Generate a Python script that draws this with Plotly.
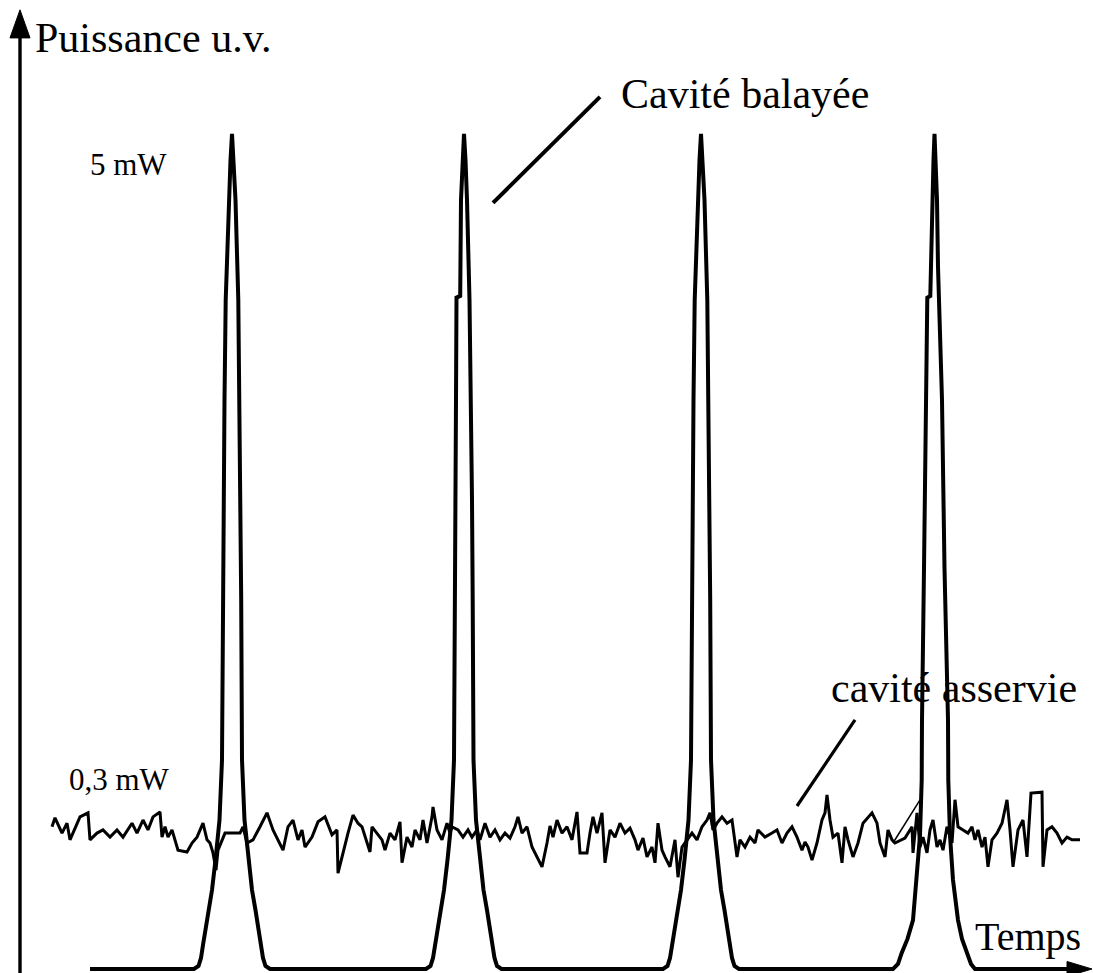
import plotly.graph_objects as go

# Time axis in arbitrary units, power in mW
# Scanned cavity: transmitted u.v. power while the cavity length is swept
scan_t = [7.0,
          17.40, 17.85, 18.10, 18.30, 18.55, 18.85, 19.20, 19.55, 19.95, 20.20, 20.23, 20.28, 20.35, 20.45, 20.57, 20.85, 21.05, 21.20,
          21.35, 21.55, 21.83, 21.95, 22.05, 22.12, 22.17, 22.20, 22.45, 22.85, 23.20, 23.55, 23.85, 24.10, 24.30, 24.55, 25.00,
          40.60, 41.05, 41.30, 41.50, 41.75, 42.05, 42.40, 42.75, 43.15, 43.40, 43.45, 43.50, 43.55, 43.60, 43.65, 44.02, 44.10, 44.27, 44.40,
          44.55, 44.70, 44.95, 45.10, 45.20, 45.27, 45.32, 45.35, 45.60, 46.00, 46.35, 46.70, 47.00, 47.25, 47.45, 47.70, 48.15,
          64.30, 64.75, 65.00, 65.20, 65.45, 65.75, 66.10, 66.45, 66.85, 67.10, 67.13, 67.18, 67.25, 67.35, 67.47, 67.75, 67.95, 68.10,
          68.25, 68.45, 68.73, 68.85, 68.95, 69.02, 69.07, 69.10, 69.35, 69.75, 70.10, 70.45, 70.75, 71.00, 71.20, 71.45, 71.90,
          87.30, 87.80, 88.17, 88.75, 89.30, 89.67, 90.00, 90.17, 90.20, 90.40, 90.60, 90.67, 90.73, 91.03, 91.08, 91.20, 91.35, 91.45,
          91.58, 91.70, 91.80, 92.07, 92.20, 92.45, 92.80, 92.83, 93.00, 93.30, 93.80, 94.20, 94.67, 95.10, 95.50,
          105.0]
scan_p = [0.0,
          0.0, 0.018, 0.066, 0.144, 0.234, 0.353, 0.473, 0.653, 0.892, 1.251, 1.611, 2.210, 2.808, 3.407, 4.006, 4.605, 4.844, 5.0,
          4.844, 4.605, 4.006, 3.407, 2.808, 2.210, 1.611, 1.251, 0.892, 0.653, 0.473, 0.353, 0.234, 0.144, 0.066, 0.018, 0.0,
          0.0, 0.018, 0.066, 0.144, 0.234, 0.353, 0.473, 0.653, 0.892, 1.251, 1.611, 2.210, 2.808, 3.407, 4.02, 4.03, 4.605, 4.844, 5.0,
          4.844, 4.605, 4.006, 3.407, 2.808, 2.210, 1.611, 1.251, 0.892, 0.653, 0.473, 0.353, 0.234, 0.144, 0.066, 0.018, 0.0,
          0.0, 0.018, 0.066, 0.144, 0.234, 0.353, 0.473, 0.653, 0.892, 1.251, 1.611, 2.210, 2.808, 3.407, 4.006, 4.605, 4.844, 5.0,
          4.844, 4.605, 4.006, 3.407, 2.808, 2.210, 1.611, 1.251, 0.892, 0.653, 0.473, 0.353, 0.234, 0.144, 0.066, 0.018, 0.0,
          0.0, 0.030, 0.096, 0.180, 0.293, 0.533, 0.800, 1.132, 1.491, 2.400, 3.407, 3.605, 4.02, 4.03, 4.204, 4.605, 4.844, 5.0,
          4.844, 4.605, 4.204, 3.605, 3.407, 2.400, 1.491, 1.132, 0.800, 0.533, 0.293, 0.180, 0.096, 0.030, 0.0,
          0.0]

# Locked cavity: transmitted power with the servo engaged (recorded at higher gain)
lock_t = [3.2, 3.5, 4.2, 4.7, 5.0, 6.0, 6.8, 7.0, 7.7, 8.3, 9.0, 9.7, 10.3, 11.2, 11.7, 12.3, 12.8, 13.3, 14.0, 14.2,
          14.5, 14.8, 15.2, 15.5, 15.8, 16.7, 17.2, 17.7, 18.3, 18.7, 19.0, 19.3, 19.6, 19.8, 20.2, 20.5, 22.0, 22.3, 22.7, 23.3,
          24.0, 24.7, 25.3, 25.8, 26.3, 26.8, 27.3, 27.8, 28.2, 28.5, 29.2, 29.8, 30.5, 31.2, 31.7, 31.8, 32.2, 32.5, 32.8, 33.3,
          33.8, 34.2, 34.7, 35.0, 35.2, 35.7, 36.2, 36.5, 37.0, 37.5, 38.0, 38.2, 38.7, 39.2, 39.5, 40.0, 40.3, 40.7, 41.2, 41.3,
          41.7, 42.2, 42.7, 43.0, 43.2, 43.8, 44.3, 44.8, 45.2, 45.7, 46.0, 46.5, 47.0, 47.5, 48.0, 48.5, 49.0, 49.5, 49.8, 50.2,
          50.7, 51.2, 51.7, 52.2, 52.7, 53.0, 53.3, 53.7, 54.2, 54.7, 55.2, 55.7, 56.0, 56.7, 57.0, 57.3, 57.7, 58.2, 58.5, 59.0,
          59.5, 60.0, 60.5, 61.0, 61.5, 61.8, 62.3, 62.7, 63.2, 63.5, 63.8, 64.2, 64.5, 65.0, 65.5, 65.8, 66.2, 66.7, 67.2, 67.7,
          68.2, 68.7, 69.0, 69.3, 69.7, 70.2, 70.7, 71.2, 71.7, 72.0, 72.5, 73.0, 73.5, 73.8, 74.5, 75.2, 75.7, 76.2, 76.7, 77.2,
          77.7, 78.2, 78.5, 78.8, 79.2, 79.7, 80.2, 80.5, 80.7, 81.0, 81.3, 81.8, 82.2, 82.5, 82.8, 83.3, 83.8, 84.3, 85.2, 85.7,
          86.0, 86.5, 86.8, 87.2, 87.5, 88.5, 89.2, 89.3, 89.7, 90.0, 90.3, 90.7, 91.0, 91.3, 91.7, 92.0, 92.3, 92.7, 93.2, 93.5,
          93.8, 94.3, 94.8, 95.2, 95.5, 95.8, 96.2, 96.5, 96.8, 97.2, 97.7, 98.2, 98.5, 98.7, 99.0, 99.3, 99.8, 100.3, 100.7, 101.1,
          102.2, 102.3, 102.7, 103.2, 103.7, 104.2, 104.7, 105.2, 106.0]
lock_p = [0.316, 0.336, 0.302, 0.324, 0.287, 0.338, 0.347, 0.287, 0.302, 0.309, 0.293, 0.309, 0.293, 0.324, 0.302, 0.331, 0.309, 0.338, 0.349, 0.293,
          0.316, 0.293, 0.309, 0.287, 0.264, 0.260, 0.280, 0.293, 0.324, 0.287, 0.280, 0.258, 0.220, 0.264, 0.287, 0.302, 0.302, 0.316, 0.280, 0.287,
          0.316, 0.347, 0.309, 0.287, 0.264, 0.316, 0.331, 0.287, 0.309, 0.271, 0.293, 0.327, 0.338, 0.298, 0.309, 0.213, 0.249, 0.280, 0.302, 0.342,
          0.324, 0.316, 0.280, 0.260, 0.316, 0.302, 0.287, 0.264, 0.302, 0.287, 0.327, 0.236, 0.293, 0.271, 0.309, 0.287, 0.331, 0.280, 0.338, 0.360,
          0.309, 0.287, 0.324, 0.302, 0.316, 0.309, 0.293, 0.309, 0.293, 0.309, 0.287, 0.324, 0.293, 0.309, 0.287, 0.302, 0.291, 0.316, 0.338, 0.302,
          0.316, 0.271, 0.249, 0.227, 0.280, 0.318, 0.293, 0.331, 0.302, 0.316, 0.287, 0.349, 0.258, 0.258, 0.302, 0.338, 0.302, 0.347, 0.236, 0.309,
          0.293, 0.324, 0.302, 0.313, 0.287, 0.264, 0.291, 0.249, 0.271, 0.236, 0.324, 0.264, 0.249, 0.227, 0.287, 0.204, 0.271, 0.287, 0.302, 0.287,
          0.316, 0.331, 0.347, 0.309, 0.324, 0.338, 0.324, 0.331, 0.249, 0.287, 0.271, 0.293, 0.280, 0.309, 0.293, 0.302, 0.309, 0.280, 0.302, 0.316,
          0.293, 0.264, 0.282, 0.271, 0.242, 0.280, 0.331, 0.347, 0.387, 0.331, 0.293, 0.302, 0.236, 0.316, 0.287, 0.249, 0.280, 0.324, 0.347, 0.324,
          0.280, 0.249, 0.309, 0.287, 0.280, 0.291, 0.316, 0.258, 0.347, 0.271, 0.293, 0.258, 0.309, 0.331, 0.271, 0.287, 0.264, 0.316, 0.280, 0.376,
          0.316, 0.309, 0.302, 0.316, 0.287, 0.309, 0.271, 0.293, 0.227, 0.287, 0.302, 0.324, 0.353, 0.376, 0.309, 0.227, 0.309, 0.331, 0.249, 0.391,
          0.393, 0.227, 0.309, 0.316, 0.302, 0.280, 0.293, 0.287, 0.287]

# Short fast excursion of the locked signal near the last resonance
sweep_t = [87.3, 90.0]
sweep_p = [0.280, 0.376]

# Axis ranges (main axis for the scan, secondary axis for the locked trace)
X_RANGE = [-2.0, 107.3]
Y_RANGE = [-0.024, 5.802]
Y2_RANGE = [-0.0089, 2.1533]

SERIF = "Liberation Serif, Times New Roman, serif"
INK = "black"

fig = go.Figure()
fig.add_trace(go.Scatter(x=scan_t, y=scan_p, mode="lines",
                         line=dict(color=INK, width=4.0), hoverinfo="skip"))
fig.add_trace(go.Scatter(x=lock_t, y=lock_p, mode="lines", yaxis="y2",
                         line=dict(color=INK, width=3.0), hoverinfo="skip"))
fig.add_trace(go.Scatter(x=sweep_t, y=sweep_p, mode="lines", yaxis="y2",
                         line=dict(color=INK, width=1.5), hoverinfo="skip"))

# Hand-drawn style axes: vertical power axis and horizontal time arrow
y_tip = 5.743
y_head_base = 5.575
head_half_w = 1.0
shapes = [
    dict(type="line", xref="x", yref="y", x0=0, x1=0, y0=Y_RANGE[0], y1=y_head_base + 0.02,
         line=dict(color=INK, width=3.4)),
    dict(type="path", xref="x", yref="y",
         path=f"M {-head_half_w} {y_head_base} L 0 {y_tip} L {head_half_w} {y_head_base} Z",
         fillcolor=INK, line=dict(color=INK, width=1)),
    dict(type="line", xref="x", yref="y", x0=scan_t[-1], x1=104.9, y0=0, y1=0,
         line=dict(color=INK, width=4.0)),
    dict(type="path", xref="x", yref="y",
         path="M 104.7 -0.045 L 107.2 0 L 104.7 0.045 Z",
         fillcolor=INK, line=dict(color=INK, width=1)),
    # pointer to the scanned cavity trace
    dict(type="line", xref="x", yref="y", x0=47.3, y0=4.587, x1=58.0, y1=5.222,
         line=dict(color=INK, width=4.0)),
    # pointer to the locked cavity trace
    dict(type="line", xref="x", yref="y", x0=77.7, y0=0.976, x1=83.5, y1=1.491,
         line=dict(color=INK, width=3.2)),
]

def label(text, x, y, size, xanchor="left"):
    return dict(text=text, x=x, y=y, xref="x", yref="y", showarrow=False,
                xanchor=xanchor, yanchor="middle",
                font=dict(family=SERIF, size=size, color=INK))

annotations = [
    label("Puissance u.v.", 1.3, 5.575, 42),
    label("Cavité balayée", 59.9, 5.24, 42),
    label("5 mW", 10.8, 4.82, 31, xanchor="center"),
    label("0,3 mW", 9.9, 1.135, 31, xanchor="center"),
    label("cavité asservie", 80.9, 1.68, 42),
    label("Temps", 95.3, 0.195, 40),
]

fig.update_layout(
    width=1093, height=973,
    margin=dict(l=0, r=0, t=0, b=0),
    paper_bgcolor="white", plot_bgcolor="white",
    showlegend=False,
    xaxis=dict(range=X_RANGE, visible=False, showgrid=False, zeroline=False),
    yaxis=dict(range=Y_RANGE, visible=False, showgrid=False, zeroline=False),
    yaxis2=dict(range=Y2_RANGE, overlaying="y", visible=False, showgrid=False, zeroline=False),
    shapes=shapes,
    annotations=annotations,
)

fig.write_html("out.html")
